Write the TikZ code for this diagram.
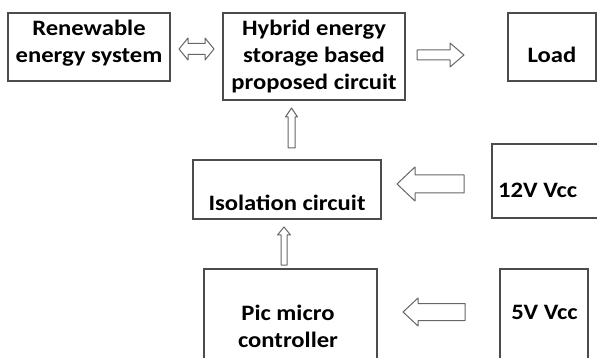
\documentclass[tikz,border=0pt]{standalone}
\usepackage{fontspec}
\setmainfont{Carlito}[FakeStretch=1.12]
\begin{document}
\begin{tikzpicture}[x=1pt,y=-1pt,
  box/.style={draw=black!70, line width=1.3pt, rectangle, inner sep=0pt},
  lbl/.style={inner sep=0pt, align=center, font=\fontsize{22}{27}\selectfont\bfseries},
  barrow/.style={draw=black!60, line width=1pt, fill=white, line join=round}]
\useasboundingbox (0,0) rectangle (597,358);
\clip (0,0) rectangle (597,358);
% boxes
\node[box, minimum width=162pt, minimum height=68pt] (ren) at (89,47) {};
\node[box, minimum width=182pt, minimum height=87pt] (hyb) at (314,56.5) {};
\node[box, minimum width=88pt, minimum height=68pt] (load) at (552,47) {};
\node[box, minimum width=188pt, minimum height=59pt] (iso) at (287,189.5) {};
\node[box, minimum width=130pt, minimum height=74pt] (v12) at (557,181) {};
\node[box, minimum width=173pt, minimum height=120pt] (pic) at (290.5,329) {};
\node[box, minimum width=88pt, minimum height=120pt] (v5) at (544,329) {};
% labels
\node[lbl] (renT) at (89,43) {Renewable\\energy system};
\node[lbl] (hybT) at (314,57) {Hybrid energy\\storage based\\proposed circuit};
\node[lbl] (loadT) at (552,55) {Load};
\node[lbl] (isoT) at (287,202.5) {Isolation circuit};
\node[lbl, anchor=west] (v12T) at (498,190) {12V Vcc};
\node[lbl] (picT) at (288,326) {Pic micro\\controller};
\node[lbl] (v5T) at (544.5,312.5) {5V Vcc};
% block arrows
\draw[barrow] (179,49) -- (188,38) -- (188,43.5) -- (205,43.5) -- (205,38) -- (214,49)
  -- (205,60) -- (205,54.5) -- (188,54.5) -- (188,60) -- cycle;
\draw[barrow] (417,50) -- (450,50) -- (450,43) -- (464,55) -- (450,67) -- (450,60) -- (417,60) -- cycle;
\draw[barrow] (288,148) -- (288,117) -- (285.5,117) -- (291.5,108) -- (297.5,117) -- (295,117) -- (295,148) -- cycle;
\draw[barrow] (464,175) -- (415,175) -- (415,167) -- (397,184) -- (415,201) -- (415,193) -- (464,193) -- cycle;
\draw[barrow] (281,265) -- (281,235) -- (277.5,235) -- (284,227) -- (290.5,235) -- (287,235) -- (287,265) -- cycle;
\draw[barrow] (465,303.5) -- (418,303.5) -- (418,298) -- (403,312) -- (418,326) -- (418,320.5) -- (465,320.5) -- cycle;
\end{tikzpicture}
\end{document}
